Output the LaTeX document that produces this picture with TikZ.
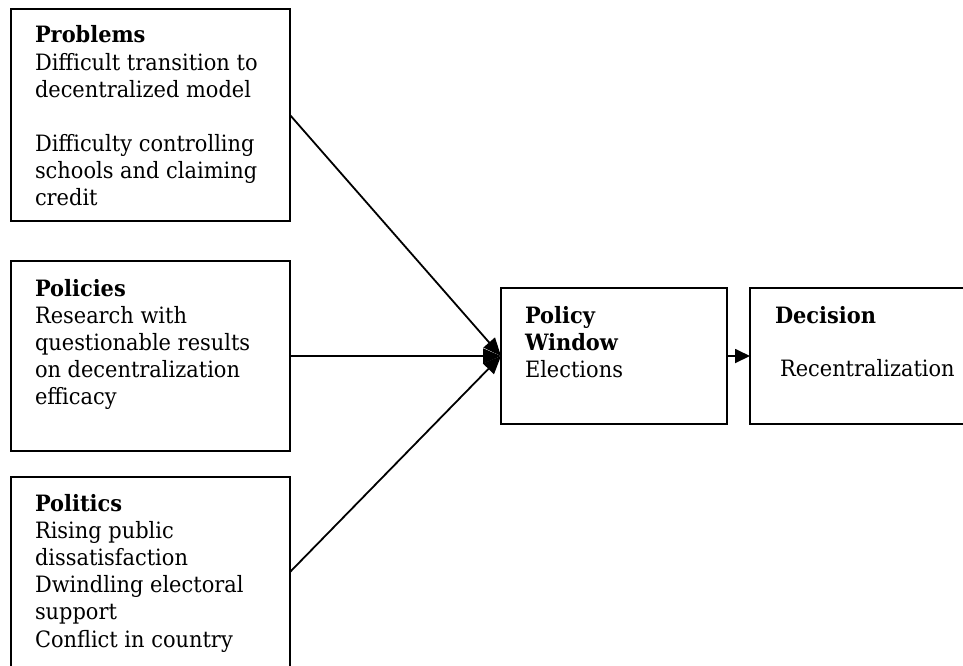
\documentclass[tikz,border=0pt]{standalone}
\usepackage{fontspec}
\setmainfont[FakeStretch=0.93]{DejaVu Serif}
\usetikzlibrary{arrows.meta}
\newcommand\boxtext[1]{\parbox[t]{330pt}{\raggedright\fontsize{22.5}{27.2}\selectfont #1}}
\begin{document}
\begin{tikzpicture}[x=1pt,y=-1pt,
  box/.style={draw, line width=2pt, inner sep=0pt, outer sep=0pt},
  txt/.style={anchor=base west, inner sep=0pt, outer sep=0pt},
  link/.style={line width=1.8pt, -{Triangle[length=18pt,width=15pt]}},
  shortlink/.style={line width=1.8pt, -{Triangle[length=15pt,width=14pt]}}]
\useasboundingbox (0,0) rectangle (963,665);
\clip (0,0) rectangle (963,665);
\fill[white] (0,0) rectangle (963,665);
% boxes
\node[box, minimum width=279pt, minimum height=212pt] (problems) at (150.5,115) {};
\node[box, minimum width=279pt, minimum height=190pt] (policies) at (150.5,356) {};
\node[box, minimum width=279pt, minimum height=190pt] (politics) at (150.5,572) {};
\node[box, minimum width=226pt, minimum height=136pt] (window) at (614,356) {};
\node[box, minimum width=235pt, minimum height=136pt] (decision) at (867.5,356) {};
% texts
\node[txt] (problemstext) at (35,42) {\boxtext{\textbf{Problems}\\[1.5pt]Difficult transition to\\decentralized model\\[26pt]Difficulty controlling\\schools and claiming\\credit}};
\node[txt] (policiestext) at (35,296) {\boxtext{\textbf{Policies}\\Research with\\questionable results\\on decentralization\\efficacy}};
\node[txt] (politicstext) at (35,511) {\boxtext{\textbf{Politics}\\Rising public\\dissatisfaction\\Dwindling electoral\\support\\Conflict in country}};
\node[txt] (windowtext) at (525,323) {\boxtext{\textbf{Policy}\\\textbf{Window}\\Elections}};
\node[txt] (decisiontext) at (775,323) {\boxtext{\textbf{Decision}\\[26pt]\hspace*{5pt}Recentralization}};
% connectors
\draw[link] (problems.east) -- (window.west);
\draw[link] (policies.east) -- (window.west);
\draw[link] (politics.east) -- (window.west);
\draw[shortlink] (window.east) -- (decision.west);
\end{tikzpicture}
\end{document}
